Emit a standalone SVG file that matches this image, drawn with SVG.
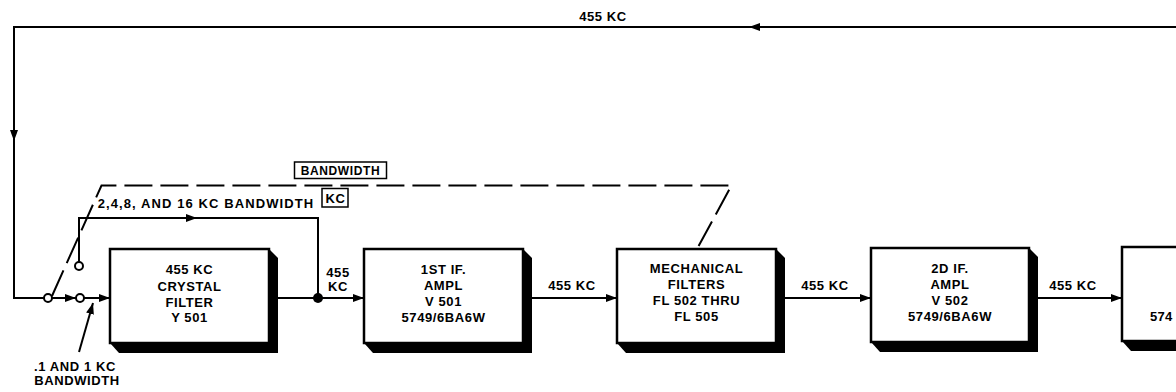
<svg xmlns="http://www.w3.org/2000/svg" width="1176" height="392" viewBox="0 0 1176 392">
<style>
  .ln{fill:none;stroke:#000;stroke-width:2}
  .dash{fill:none;stroke:#000;stroke-width:2;stroke-dasharray:28 8}
  .box{fill:#fff;stroke:#000;stroke-width:2.5}
  .sh{fill:#000}
  .t{font-family:"Liberation Sans",Arial,sans-serif;font-weight:bold;font-size:13px;letter-spacing:0.6px;fill:#000;text-anchor:middle}
  .term{fill:#fff;stroke:#000;stroke-width:2}
  .lbl{fill:none;stroke:#000;stroke-width:1.5}
</style>
<defs>
  <marker id="arr" viewBox="0 0 11 8" refX="11" refY="4" markerWidth="11" markerHeight="8" markerUnits="userSpaceOnUse" orient="auto">
    <path d="M0,0 L11,4 L0,8 z" fill="#000"/>
  </marker>
</defs>
<rect width="1176" height="392" fill="#fff"/>

<g id="connectors">
  <path class="ln" d="M1176,27 H749" marker-end="url(#arr)"/>
  <path class="ln" d="M749,27 H14 V141" marker-end="url(#arr)"/>
  <path class="ln" d="M14,141 V298 H44"/>
  <path class="ln" d="M52,298 H76" marker-end="url(#arr)"/>
  <path class="ln" d="M84,298 H110" marker-end="url(#arr)"/>
  <path class="ln" d="M79,262 V218 H197" marker-end="url(#arr)"/>
  <path class="ln" d="M197,218 H318 V298"/>
  <path class="ln" d="M269,298 H364" marker-end="url(#arr)"/>
  <path class="ln" d="M532,298 H617" marker-end="url(#arr)"/>
  <path class="ln" d="M785,298 H871" marker-end="url(#arr)"/>
  <path class="ln" d="M1038,298 H1122" marker-end="url(#arr)"/>
  <path class="ln" d="M79,352 L93,303" marker-end="url(#arr)"/>
  <path class="dash" d="M52,296 L101.5,185.5 H731.5 L697,249"/>
  <circle class="term" cx="48" cy="298" r="4"/>
  <circle class="term" cx="80" cy="298" r="4"/>
  <circle class="term" cx="79" cy="266" r="4"/>
  <circle cx="318" cy="298" r="5" fill="#000"/>
</g>

<g id="labels">
  <text class="t" x="603" y="21">455 KC</text>
  <text class="t" x="206" y="208" style="letter-spacing:1.1px">2,4,8, AND 16 KC BANDWIDTH</text>
  <rect class="lbl" x="294.5" y="162" width="92" height="16.5"/>
  <text class="t" x="340.5" y="175" style="font-size:12px">BANDWIDTH</text>
  <rect class="lbl" x="322" y="188.5" width="26" height="18.5"/>
  <text class="t" x="335.5" y="203">KC</text>
  <text class="t" x="338" y="277">455</text>
  <text class="t" x="338" y="291">KC</text>
  <text class="t" x="572" y="290">455 KC</text>
  <text class="t" x="825" y="290">455 KC</text>
  <text class="t" x="1073" y="290">455 KC</text>
  <text class="t" x="75" y="371">.1 AND 1 KC</text>
  <text class="t" x="77" y="385">BANDWIDTH</text>
</g>

<g id="crystal-filter">
  <path class="sh" d="M269,249 L278,258 L278,353 L119,353 L110,343 Z"/>
  <rect class="box" x="110" y="249" width="159" height="94"/>
  <text class="t" x="189.5" y="274">455 KC</text>
  <text class="t" x="189.5" y="290.5">CRYSTAL</text>
  <text class="t" x="189.5" y="306.5">FILTER</text>
  <text class="t" x="189.5" y="322">Y 501</text>
</g>

<g id="if-amp-1">
  <path class="sh" d="M523,249 L532,258 L532,353 L373,353 L364,343 Z"/>
  <rect class="box" x="364" y="249" width="159" height="94"/>
  <text class="t" x="443.5" y="274">1ST IF.</text>
  <text class="t" x="443.5" y="290">AMPL</text>
  <text class="t" x="443.5" y="306">V 501</text>
  <text class="t" x="443.5" y="322">5749/6BA6W</text>
</g>

<g id="mechanical-filters">
  <path class="sh" d="M776,249 L785,258 L785,353 L626,353 L617,343 Z"/>
  <rect class="box" x="617" y="249" width="159" height="94"/>
  <text class="t" x="696.5" y="273">MECHANICAL</text>
  <text class="t" x="696.5" y="289">FILTERS</text>
  <text class="t" x="696.5" y="305">FL 502 THRU</text>
  <text class="t" x="696.5" y="321">FL 505</text>
</g>

<g id="if-amp-2">
  <path class="sh" d="M1029,248 L1038,257 L1038,352 L880,352 L871,342 Z"/>
  <rect class="box" x="871" y="248" width="158" height="94"/>
  <text class="t" x="950" y="273">2D IF.</text>
  <text class="t" x="950" y="289">AMPL</text>
  <text class="t" x="950" y="305">V 502</text>
  <text class="t" x="950" y="321">5749/6BA6W</text>
</g>

<g id="next-stage">
  <path class="sh" d="M1122,341 L1131,351 L1190,351 L1190,341 Z"/>
  <rect class="box" x="1122" y="247" width="159" height="94"/>
  <text class="t" x="1150" y="321" style="text-anchor:start;letter-spacing:0.3px">574</text>
</g>
</svg>
